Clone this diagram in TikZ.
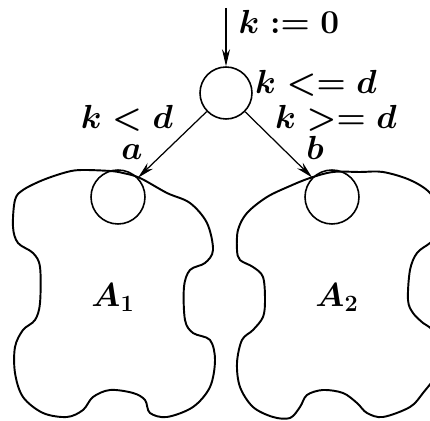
\RequirePackage{fix-cm}
\documentclass[tikz,border=0pt]{standalone}
\usepackage{amsmath}
\usepackage{tikz}
\usetikzlibrary{arrows.meta,positioning}

\begin{document}
\begin{tikzpicture}[
  x=0.02cm, y=-0.02cm,
  font=\fontsize{19}{22}\selectfont\boldmath,
  loc/.style={draw, circle, line width=0.9pt, minimum size=1.04cm, inner sep=0pt},
  sub/.style={draw, circle, line width=0.9pt, minimum size=1.08cm, inner sep=0pt},
  blob/.style={line width=1.1pt, smooth cycle, tension=0.55},
  arr/.style={-{Stealth[length=3.4mm,width=1.6mm]}, line width=0.7pt},
  lbl/.style={inner sep=0pt, anchor=base}
]
\useasboundingbox (0,0) rectangle (430,421);
\clip (0,0) rectangle (430,421);

% states
\node[loc] (init) at (226,93) {};
\node[sub] (suba) at (118,197) {};
\node[sub] (subb) at (332,197) {};
\coordinate (start) at (226,8);

% components
\draw[blob] plot coordinates {(82,170) (110,171) (123,173) (140,178) (167,193) (190,203) (207,223) (213,250) (205,263) (190,270) (184,287) (185,320) (193,333) (210,340) (215,360) (210,387) (193,407) (167,417) (150,413) (145,400) (133,393) (110,390) (93,397) (83,410) (67,417) (43,413) (23,397) (15,373) (15,347) (23,330) (35,320) (40,303) (40,267) (33,253) (18,243) (13,227) (15,200) (23,190) (43,180) (67,172)};
\draw[blob] plot coordinates {(310,178) (333,172) (360,172) (383,172) (410,180) (430,193) (442,215) (442,232) (430,243) (417,253) (410,270) (408,300) (413,313) (423,323) (432,330) (440,350) (438,372) (423,393) (410,407) (383,417) (367,413) (357,403) (343,393) (323,390) (307,395) (300,407) (290,418) (273,417) (253,407) (240,387) (237,363) (242,340) (253,330) (263,317) (265,300) (263,277) (253,267) (240,260) (237,250) (238,230) (247,213) (267,197) (290,186)};

% labels
\node[lbl] (assign) at (289,34) {$k := 0$};
\node[lbl] (inv) at (316,94) {$k <= d$};
\node[lbl] (guardl) at (127,129) {$k < d$};
\node[lbl] (guardr) at (336,129) {$k >= d$};
\node[lbl] (namea) at (132,160) {$a$};
\node[lbl] (nameb) at (315,160) {$b$};
\node[lbl] (compa) at (113,307) {$A_1$};
\node[lbl] (compb) at (337,307) {$A_2$};

% transitions
\draw[arr] (start) -- (init);
\draw[arr] (init) -- (suba);
\draw[arr] (init) -- (subb);
\end{tikzpicture}
\end{document}
